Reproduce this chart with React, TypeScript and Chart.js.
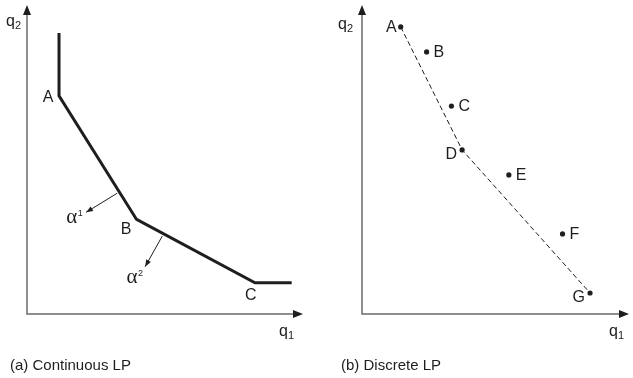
import React, { useEffect, useRef } from "react";
import { Chart, registerables } from "chart.js";

Chart.register(...registerables);

// ---------- Panel (a): continuous LP ----------
const frontierQ1 = [1.16, 1.16, 3.97, 8.26, 9.59];
const frontierQ2 = [9.09, 7.06, 3.06, 1.01, 1.01];
const vertexNames = ["A", "B", "C"];
const vertexLabelQ1 = [0.76, 3.59, 8.11];
const vertexLabelQ2 = [6.99, 2.72, 0.61];
const normalStartQ1 = [3.27, 4.9];
const normalStartQ2 = [3.91, 2.52];
const normalEndQ1 = [2.14, 4.28];
const normalEndQ2 = [3.29, 1.53];
const normalSup = ["1", "2"];
const normalLabelQ1 = [1.62, 3.8];
const normalLabelQ2 = [3.11, 1.19];

// ---------- Panel (b): discrete LP ----------
const pointNames = ["A", "B", "C", "D", "E", "F", "G"];
const pointQ1 = [1.45, 2.42, 3.35, 3.75, 5.5, 7.51, 8.54];
const pointQ2 = [9.29, 8.48, 6.73, 5.31, 4.5, 2.59, 0.68];
const labelSide = ["left", "right", "right", "below-left", "right", "right", "below-left"];
const hullNames = ["A", "D", "G"];

const FONT = '"Liberation Sans", Arial, Helvetica, sans-serif';
const INK = "#1e1e1e";

function drawQ(ctx: CanvasRenderingContext2D, sub: string, x: number, y: number) {
  ctx.save();
  ctx.fillStyle = INK;
  ctx.textBaseline = "middle";
  ctx.textAlign = "left";
  ctx.font = `16px ${FONT}`;
  ctx.fillText("q", x, y);
  const w = ctx.measureText("q").width;
  ctx.font = `11px ${FONT}`;
  ctx.fillText(sub, x + w, y + 4);
  ctx.restore();
}

function drawAxes(chart: any, q2pos: [number, number], q1pos: [number, number]) {
  const ctx: CanvasRenderingContext2D = chart.ctx;
  const a = chart.chartArea;
  ctx.save();
  ctx.strokeStyle = "#6a6a6a";
  ctx.lineWidth = 1.5;
  ctx.beginPath();
  ctx.moveTo(a.left, a.top + 8);
  ctx.lineTo(a.left, a.bottom);
  ctx.lineTo(a.right - 8, a.bottom);
  ctx.stroke();
  ctx.fillStyle = INK;
  ctx.beginPath();
  ctx.moveTo(a.left, a.top);
  ctx.lineTo(a.left - 4, a.top + 10);
  ctx.lineTo(a.left + 4, a.top + 10);
  ctx.closePath();
  ctx.fill();
  ctx.beginPath();
  ctx.moveTo(a.right, a.bottom);
  ctx.lineTo(a.right - 10, a.bottom - 4);
  ctx.lineTo(a.right - 10, a.bottom + 4);
  ctx.closePath();
  ctx.fill();
  ctx.restore();
  drawQ(ctx, "2", a.left + q2pos[0], a.top + q2pos[1]);
  drawQ(ctx, "1", a.right + q1pos[0], a.bottom + q1pos[1]);
}

const panelAPlugin = {
  id: "panelA",
  beforeDatasetsDraw(chart: any) {
    drawAxes(chart, [-21, 17], [-24, 18]);
  },
  afterDatasetsDraw(chart: any) {
    const ctx: CanvasRenderingContext2D = chart.ctx;
    const xs = chart.scales.x;
    const ys = chart.scales.y;
    ctx.save();
    ctx.fillStyle = INK;
    for (let i = 0; i < normalStartQ1.length; i++) {
      const x0 = xs.getPixelForValue(normalStartQ1[i]);
      const y0 = ys.getPixelForValue(normalStartQ2[i]);
      const x1 = xs.getPixelForValue(normalEndQ1[i]);
      const y1 = ys.getPixelForValue(normalEndQ2[i]);
      const ang = Math.atan2(y1 - y0, x1 - x0);
      const L = 7;
      const H = 2.6;
      ctx.beginPath();
      ctx.moveTo(x1, y1);
      ctx.lineTo(x1 - L * Math.cos(ang) + H * Math.sin(ang), y1 - L * Math.sin(ang) - H * Math.cos(ang));
      ctx.lineTo(x1 - L * Math.cos(ang) - H * Math.sin(ang), y1 - L * Math.sin(ang) + H * Math.cos(ang));
      ctx.closePath();
      ctx.fill();
    }
    ctx.font = `16px ${FONT}`;
    ctx.textAlign = "center";
    ctx.textBaseline = "middle";
    for (let i = 0; i < vertexNames.length; i++) {
      ctx.fillText(vertexNames[i], xs.getPixelForValue(vertexLabelQ1[i]), ys.getPixelForValue(vertexLabelQ2[i]));
    }
    for (let i = 0; i < normalSup.length; i++) {
      const x = xs.getPixelForValue(normalLabelQ1[i]);
      const y = ys.getPixelForValue(normalLabelQ2[i]);
      ctx.font = `21px "Liberation Serif", "Times New Roman", serif`;
      ctx.textAlign = "center";
      ctx.fillText("α", x, y);
      const w = ctx.measureText("α").width;
      ctx.font = `9px ${FONT}`;
      ctx.textAlign = "left";
      ctx.fillText(normalSup[i], x + w / 2 + 0.5, y - 4);
    }
    ctx.restore();
  },
};

const panelBPlugin = {
  id: "panelB",
  beforeDatasetsDraw(chart: any) {
    drawAxes(chart, [-24, 20], [-20, 18]);
  },
  afterDatasetsDraw(chart: any) {
    const ctx: CanvasRenderingContext2D = chart.ctx;
    const xs = chart.scales.x;
    const ys = chart.scales.y;
    ctx.save();
    ctx.fillStyle = INK;
    ctx.font = `16px ${FONT}`;
    ctx.textBaseline = "middle";
    for (let i = 0; i < pointNames.length; i++) {
      const x = xs.getPixelForValue(pointQ1[i]);
      const y = ys.getPixelForValue(pointQ2[i]);
      const side = labelSide[i];
      if (side === "left") {
        ctx.textAlign = "right";
        ctx.fillText(pointNames[i], x - 4, y + 1);
      } else if (side === "right") {
        ctx.textAlign = "left";
        ctx.fillText(pointNames[i], x + 7, y + 1);
      } else {
        ctx.textAlign = "right";
        ctx.fillText(pointNames[i], x - 5, y + 5);
      }
    }
    ctx.restore();
  },
};

function makeScales() {
  return {
    x: { type: "linear" as const, min: 0, max: 10, display: false },
    y: { type: "linear" as const, min: 0, max: 10, display: false },
  };
}

function PanelA() {
  const ref = useRef<HTMLCanvasElement>(null);
  useEffect(() => {
    if (!ref.current) return;
    const normals = normalStartQ1.map((_, i) => ({
      data: [
        { x: normalStartQ1[i], y: normalStartQ2[i] },
        { x: normalEndQ1[i], y: normalEndQ2[i] },
      ],
      showLine: true,
      borderColor: INK,
      borderWidth: 1,
      pointRadius: 0,
      clip: false as any,
    }));
    const chart = new Chart(ref.current, {
      type: "scatter",
      data: {
        datasets: [
          {
            data: frontierQ1.map((q, i) => ({ x: q, y: frontierQ2[i] })),
            showLine: true,
            borderColor: INK,
            borderWidth: 3,
            pointRadius: 0,
            borderJoinStyle: "miter",
            clip: false as any,
          },
          ...normals,
        ],
      },
      options: {
        animation: false,
        responsive: false,
        devicePixelRatio: 1,
        layout: { padding: { left: 27, top: 5, right: 17, bottom: 64 } },
        scales: makeScales(),
        plugins: { legend: { display: false }, tooltip: { enabled: false } },
        events: [],
      },
      plugins: [panelAPlugin],
    });
    return () => chart.destroy();
  }, []);
  return <canvas ref={ref} width={320} height={378} style={{ position: "absolute", left: 0, top: 0 }} />;
}

function PanelB() {
  const ref = useRef<HTMLCanvasElement>(null);
  useEffect(() => {
    if (!ref.current) return;
    const hullIdx = hullNames.map((n) => pointNames.indexOf(n));
    const chart = new Chart(ref.current, {
      type: "scatter",
      data: {
        datasets: [
          {
            data: hullIdx.map((i) => ({ x: pointQ1[i], y: pointQ2[i] })),
            showLine: true,
            borderColor: INK,
            borderWidth: 1,
            borderDash: [5, 3],
            pointRadius: 0,
            clip: false as any,
          },
          {
            data: pointQ1.map((q, i) => ({ x: q, y: pointQ2[i] })),
            showLine: false,
            pointRadius: 2.6,
            pointBackgroundColor: INK,
            pointBorderWidth: 0,
            borderColor: INK,
            clip: false as any,
          },
        ],
      },
      options: {
        animation: false,
        responsive: false,
        devicePixelRatio: 1,
        layout: { padding: { left: 42, top: 5, right: 2, bottom: 64 } },
        scales: makeScales(),
        plugins: { legend: { display: false }, tooltip: { enabled: false } },
        events: [],
      },
      plugins: [panelBPlugin],
    });
    return () => chart.destroy();
  }, []);
  return <canvas ref={ref} width={313} height={378} style={{ position: "absolute", left: 320, top: 0 }} />;
}

export default function App() {
  const caption: React.CSSProperties = {
    position: "absolute",
    top: 356,
    font: `15px ${FONT}`,
    lineHeight: "18px",
    color: INK,
    whiteSpace: "nowrap",
  };
  return (
    <div style={{ position: "absolute", left: 0, top: 0, width: 633, height: 378, background: "#fff", overflow: "hidden" }}>
      <PanelA />
      <PanelB />
      <div style={{ ...caption, left: 10 }}>(a) Continuous LP</div>
      <div style={{ ...caption, left: 341 }}>(b) Discrete LP</div>
    </div>
  );
}
